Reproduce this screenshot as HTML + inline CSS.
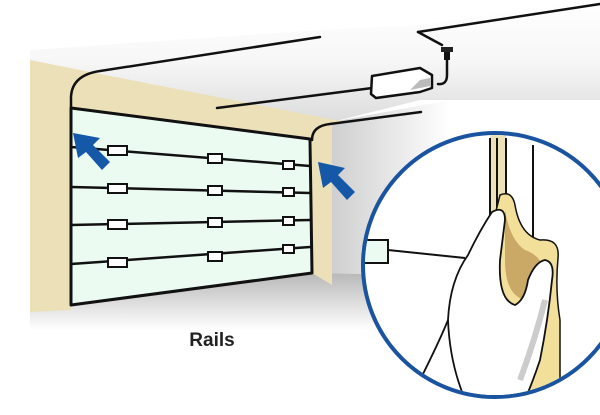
<!DOCTYPE html>
<html><head><style>body{margin:0;background:#fff}svg{display:block}</style></head><body>
<svg width="600" height="415" viewBox="0 0 600 415" xmlns="http://www.w3.org/2000/svg">
<defs>
<linearGradient id="ceil" x1="0" y1="0" x2="0" y2="1"><stop offset="0" stop-color="#fff"/><stop offset="0.5" stop-color="#f7f7f7"/><stop offset="1" stop-color="#dcdcdc"/></linearGradient>
<linearGradient id="wallr" x1="0" y1="0" x2="1" y2="0"><stop offset="0" stop-color="#cfcfcf"/><stop offset="1" stop-color="#fff"/></linearGradient>
<linearGradient id="floor" x1="0" y1="0" x2="0" y2="1"><stop offset="0" stop-color="#b8b8b8"/><stop offset="1" stop-color="#fff"/></linearGradient>
</defs>
<polygon points="30,50 320,30 420,25 600,0 600,100 420,100 332,122 30,72" fill="url(#ceil)"/>
<polygon points="332,122 450,100 450,300 332,290" fill="url(#wallr)"/>
<polygon points="30,305 312,273 400,275 400,330 30,330" fill="url(#floor)"/>
<polygon points="30,60 90,72 345,122 312,130 312,139 71,108 71,310 30,312" fill="#ebe0b8"/>
<polygon points="312,128 332,124 332,285 312,273" fill="#ebe0b8"/>
<polygon points="71,108 310,139 312,273 71,305" fill="#ecfbf2" stroke="#111" stroke-width="3" stroke-linejoin="round"/>
<g stroke="#111" stroke-width="2.5" fill="none" stroke-linecap="round">
<path d="M71,108 L71,97 Q72,75 100,71 L320,37"/>
<path d="M312,140 Q312,126 330,124 L421,112"/>
<line x1="217" y1="108" x2="380" y2="87"/>
<path d="M418,32 L600,4"/>
<path d="M418,32 L442,45"/>
<line x1="71" y1="147" x2="310" y2="166"/>
<line x1="71" y1="187" x2="310" y2="193"/>
<line x1="71" y1="225" x2="310" y2="220"/>
<line x1="71" y1="264" x2="310" y2="247"/>
<path d="M447,52 L447,75 Q447,85 438,84"/>
</g>
<polygon points="372,76 420,68 432,75 432,88 420,92 376,98 371,94" fill="#fff" stroke="#111" stroke-width="2.5" stroke-linejoin="round"/>
<polygon points="410,90 430,86 430,78 420,80 412,88" fill="#bbb"/>
<rect x="441" y="47" width="12" height="5" fill="#222"/>
<rect x="444" y="52" width="6" height="8" fill="#111"/>
<g fill="#fff" stroke="#111" stroke-width="2">
<rect x="108" y="146" width="19" height="9"/><rect x="208" y="154" width="14" height="9"/><rect x="283" y="161" width="11" height="8"/>
<rect x="108" y="184" width="19" height="9"/><rect x="208" y="186" width="14" height="9"/><rect x="283" y="188" width="11" height="8"/>
<rect x="108" y="220" width="19" height="9"/><rect x="208" y="218" width="14" height="9"/><rect x="283" y="217" width="11" height="8"/>
<rect x="108" y="258" width="19" height="9"/><rect x="208" y="252" width="14" height="9"/><rect x="283" y="245" width="11" height="8"/>
</g>
<g fill="#1558a8">
<polygon points="73,133 100,138 93,145 110,162 102,170 86,152 78,158"/>
<polygon points="318,162 345,168 338,175 355,192 347,200 331,182 323,188"/>
</g>
<text x="212" y="346" font-family="Liberation Sans, sans-serif" font-weight="bold" font-size="19" fill="#222" text-anchor="middle">Rails</text>
<circle cx="495" cy="265" r="132" fill="#fff" stroke="#1a54a0" stroke-width="4"/>
<clipPath id="cc"><circle cx="495" cy="265" r="130"/></clipPath>
<g clip-path="url(#cc)">
<rect x="490" y="135" width="16" height="200" fill="#ebe0b8"/>
<g stroke="#111" stroke-width="2"><line x1="490" y1="138" x2="490" y2="320"/><line x1="497" y1="138" x2="497" y2="320"/><line x1="506" y1="138" x2="506" y2="320"/><line x1="533" y1="145" x2="533" y2="240"/></g>
<rect x="355" y="240" width="33" height="23" fill="#ecfbf2" stroke="#111" stroke-width="2"/>
<line x1="388" y1="250" x2="465" y2="258" stroke="#111" stroke-width="2"/>
<path d="M500,195 Q512,190 515,205 Q520,235 540,240 Q560,238 558,258 Q555,290 560,320 L560,410 L470,410 Q500,330 500,300 Q490,260 495,215 Z" fill="#f2e09a" stroke="#111" stroke-width="1.5"/>
<path d="M505,210 Q510,240 525,250 Q540,255 545,270 Q540,300 525,300 Q505,295 505,260 Z" fill="#c9a965"/>
<path d="M470,410 Q450,370 448,320 Q450,280 468,255 Q480,230 492,212 Q505,205 505,220 L500,260 Q498,300 515,305 Q525,300 528,280 Q535,262 545,260 Q555,262 552,280 Q548,320 540,360 Q530,390 520,410 Z" fill="#fff" stroke="#111" stroke-width="1.8"/>
<path d="M448,320 Q440,340 420,380" stroke="#111" stroke-width="1.8" fill="none"/>
<path d="M520,380 Q535,340 545,300" stroke="#ccc" stroke-width="6" fill="none"/>
</g>
</svg>
</body></html>
